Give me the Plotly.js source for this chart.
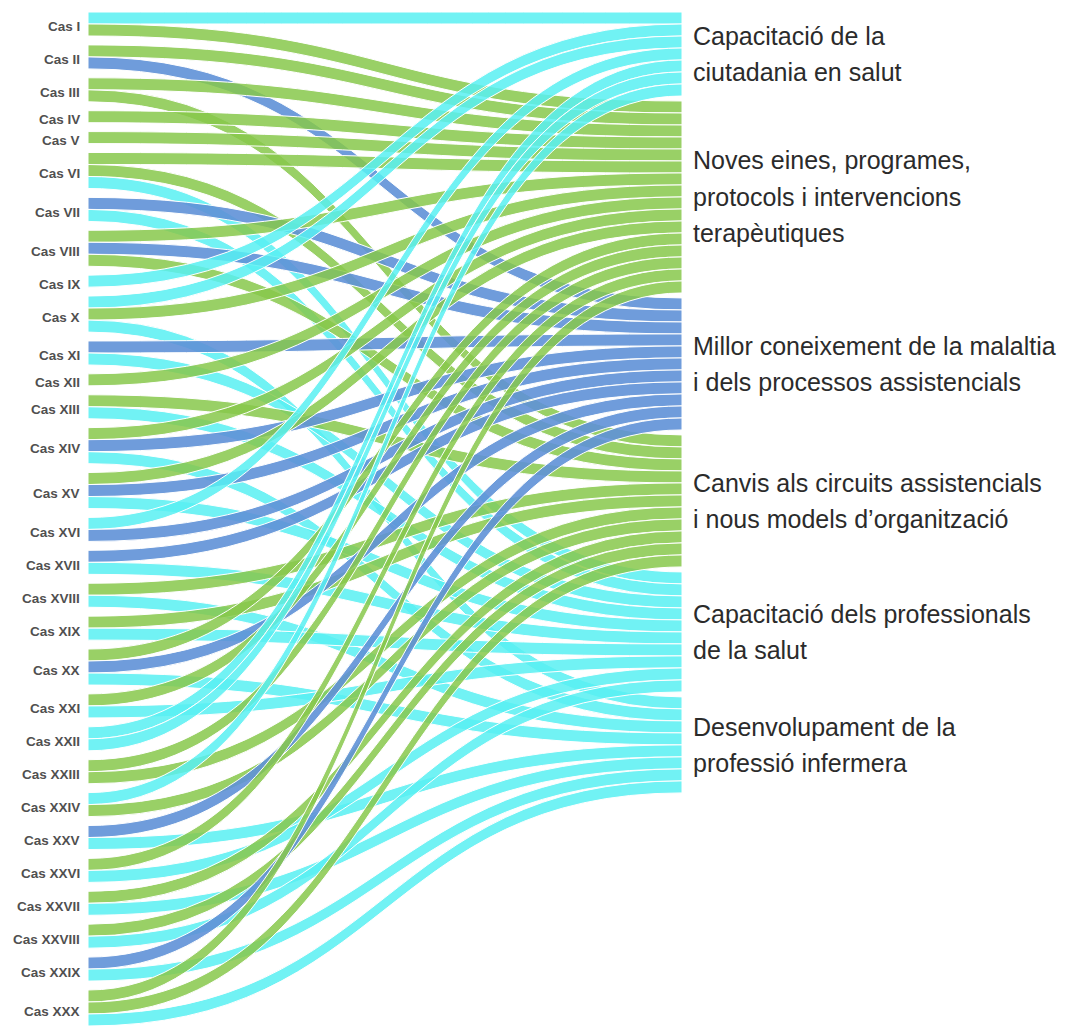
<!DOCTYPE html>
<html><head><meta charset="utf-8">
<script src="https://cdn.plot.ly/plotly-3.0.1.min.js"></script>
<style>html,body{margin:0;padding:0;background:#fff}#chart{width:1085px;height:1026px}</style>
</head><body><div id="chart"></div>
<script>
const cases = ["Cas I","Cas II","Cas III","Cas IV","Cas V","Cas VI","Cas VII","Cas VIII","Cas IX","Cas X",
  "Cas XI","Cas XII","Cas XIII","Cas XIV","Cas XV","Cas XVI","Cas XVII","Cas XVIII","Cas XIX","Cas XX",
  "Cas XXI","Cas XXII","Cas XXIII","Cas XXIV","Cas XXV","Cas XXVI","Cas XXVII","Cas XXVIII","Cas XXIX","Cas XXX"];
const outcomes = [
  "Capacitació de la<br>ciutadania en salut",
  "Noves eines, programes,<br>protocols i intervencions<br>terapèutiques",
  "Millor coneixement de la malaltia<br>i dels processos assistencials",
  "Canvis als circuits assistencials<br>i nous models d’organització",
  "Capacitació dels professionals<br>de la salut",
  "Desenvolupament de la<br>professió infermera"
];
const outcomeColors = ["rgba(88,240,242,0.85)","rgba(135,200,75,0.85)","rgba(95,145,215,0.9)",
  "rgba(135,200,75,0.85)","rgba(88,240,242,0.85)","rgba(88,240,242,0.85)"];
// outcome indices reached by each case (one link per entry)
const caseOutcomes = [
  [0,1],[1,2],[1,3],[1],[1],[1,3,4],[2,4],[1,2,3],[0],[0,1,5],
  [2,4],[1],[3,4],[1,2,5],[1,2,4],[0,2],[2,4],[3,5],[3,4],[1,2,5],
  [1,4],[0,0],[1,3],[0,3],[2,5],[1,4],[3,5],[3,4],[2,5],[1,3,5]
];

const W = 1085, H = 1026;
const domX = [87 / W, 683 / W], domY = [0, 1 - 12 / H];
const plotW = W * (domX[1] - domX[0]), plotH = H * (domY[1] - domY[0]);
const pad = 8.9, rpad = 5, thick = 1;

const src = [], tgt = [], val = [], col = [];
caseOutcomes.forEach((list, i) => list.forEach(t => {
  src.push(i); tgt.push(cases.length + t); val.push(1); col.push(outcomeColors[t]);
}));
const total = src.length;
const ky = (plotH - (cases.length - 1) * pad) / total;

const nodeX = [], nodeY = [];
let acc = 0;
cases.forEach((c, i) => {
  const v = caseOutcomes[i].length;
  nodeX.push(thick / 2 / plotW);
  nodeY.push((acc + v * ky / 2) / plotH);
  acc += v * ky + pad;
});
acc = 0;
outcomes.forEach((o, j) => {
  const v = tgt.filter(t => t === cases.length + j).length;
  nodeX.push(1 - thick / 2 / plotW);
  nodeY.push((acc + v * ky / 2) / plotH);
  acc += v * ky + rpad;
});

const toPaperY = f => domY[1] - f * (domY[1] - domY[0]);
const annotations = [];
cases.forEach((c, i) => {
  annotations.push({
    text: '<b>' + c + '</b>', xref: 'paper', yref: 'paper',
    x: domX[0] - 5 / W, y: toPaperY(nodeY[i]) - 3 / H, xanchor: 'right', yanchor: 'middle',
    showarrow: false, font: {family: 'Liberation Sans, Arial, sans-serif', size: 13.5, color: '#505050'}
  });
});
const lineGap = 36.5;
outcomes.forEach((o, j) => {
  const lines = o.split('<br>');
  const cy = toPaperY(nodeY[cases.length + j]);
  lines.forEach((ln, k) => {
    annotations.push({
      text: ln, xref: 'paper', yref: 'paper',
      x: domX[1] + 8 / W, y: cy - (k - (lines.length - 1) / 2) * lineGap / H,
      xanchor: 'left', yanchor: 'middle', showarrow: false,
      font: {family: 'Liberation Sans, Arial, sans-serif', size: 25, color: '#2b2b2b'}
    });
  });
});

const data = [{
  type: 'sankey',
  arrangement: 'freeform',
  domain: {x: domX, y: domY},
  node: {
    label: cases.concat(outcomes).map(() => ''),
    x: nodeX, y: nodeY,
    pad: pad, thickness: thick,
    color: 'rgba(0,0,0,0)', line: {width: 0},
    hoverinfo: 'none'
  },
  link: {
    source: src, target: tgt, value: val, color: col,
    line: {color: 'white', width: 1},
    hoverinfo: 'none'
  }
}];

const layout = {
  width: W, height: H,
  margin: {l: 0, r: 0, t: 0, b: 0},
  paper_bgcolor: '#fff',
  annotations: annotations,
  showlegend: false
};
Plotly.newPlot('chart', data, layout, {displayModeBar: false, staticPlot: true});
</script>
</body></html>
